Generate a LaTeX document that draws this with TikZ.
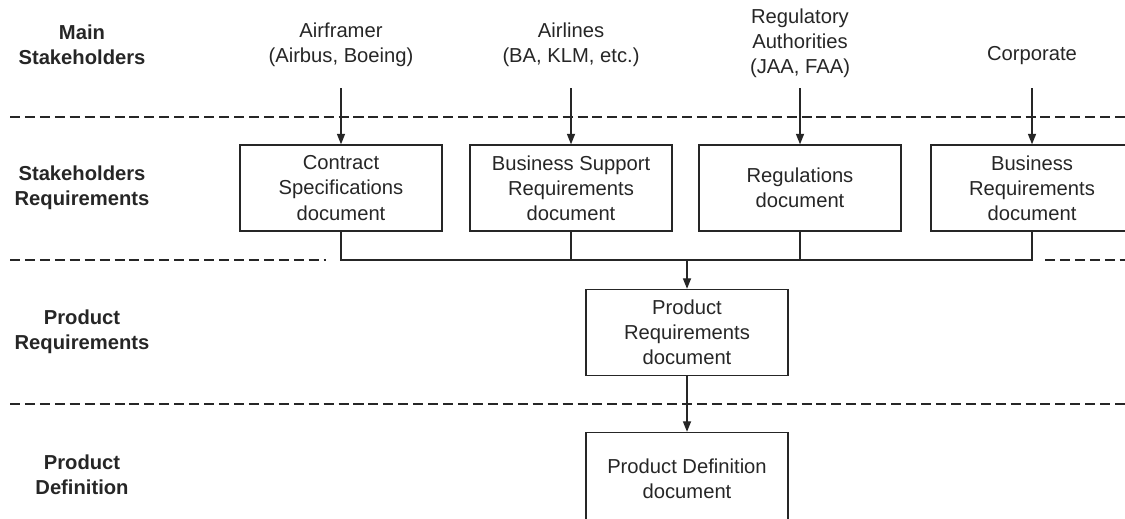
\documentclass[tikz,border=0pt]{standalone}
\usepackage{fontspec}
\setmainfont{Liberation Sans}
\usepackage{tikz}
\usetikzlibrary{arrows.meta}

\definecolor{ink}{RGB}{38,38,38}
\newcommand{\diagfont}{\fontsize{11.5}{14.3}\selectfont}

\tikzset{
	doc/.style={draw, minimum width=4.04cm, minimum height=1.72cm, align=center, inner sep=0pt},
	lane/.style={align=center, font=\diagfont\bfseries},
	holder/.style={align=center},
	sep/.style={dash pattern=on 5.7pt off 2.8pt},
}

\begin{document}
\begin{tikzpicture}[x=0.02cm, y=-0.02cm, color=ink, line width=0.8pt, font=\diagfont, >={Triangle[length=6pt,width=4.6pt]}]
		\useasboundingbox (0,0) rectangle (1125,518);
		\clip (0,0) rectangle (1125,518);
		
		\node[lane](L1) at (82,44.5){Main\\Stakeholders};
		\node[lane](L2) at (82,188){Stakeholders\\Requirements};
		\node[lane](L3) at (82,332){Product\\Requirements};
		\node[lane](L4) at (82,475){Product\\Definition};
		
		\draw[sep] (10,117)--(1125,117);
		\draw[sep] (10,260)--(326,260);
		\draw[sep] (1045,260)--(1125,260);
		\draw[sep] (10,404)--(1125,404);
		
		\node[holder](AF) at (341,44.5){Airframer\\(Airbus, Boeing)};
		\node[holder](AL) at (571,44.5){Airlines\\(BA, KLM, etc.)};
		\node[holder](RA) at (800,43.5){Regulatory\\Authorities\\(JAA, FAA)};
		\node[holder](CO) at (1032,56){Corporate};
		
		\coordinate(T1) at (341,88);
		\coordinate(T2) at (571,88);
		\coordinate(T3) at (800,88);
		\coordinate(T4) at (1032,88);
		
		\node[doc](CS) at (341,188){Contract\\Specifications\\document};
		\node[doc](BS) at (571,188){Business Support\\Requirements\\document};
		\node[doc](RD) at (800,188){Regulations\\document};
		\node[doc](BR) at (1032,188){Business\\Requirements\\document};
		\node[doc](PR) at (687,332.5){Product\\Requirements\\document};
		\node[doc, minimum height=1.86cm](PD) at (687,479){Product Definition\\document};
		
		\draw[->] (T1)--(CS);
		\draw[->] (T2)--(BS);
		\draw[->] (T3)--(RD);
		\draw[->] (T4)--(BR);
		
		\coordinate(J) at (687,260);
		\draw (CS) |- (J);
		\draw (BR) |- (J);
		\draw (BS)--(BS|-J);
		\draw (RD)--(RD|-J);
		\draw[->] (J)--(PR);
		\draw[->] (PR)--(PD);
	\end{tikzpicture}
\end{document}
